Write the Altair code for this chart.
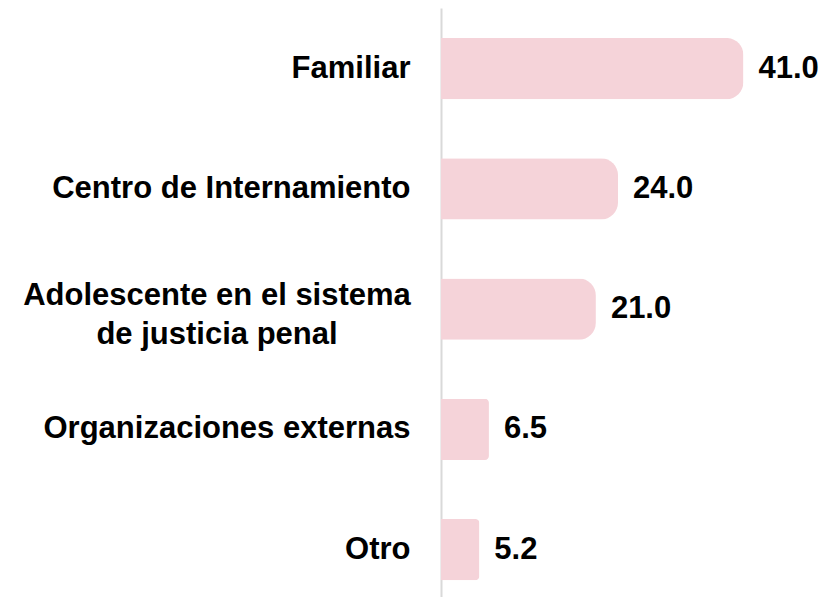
import altair as alt
import pandas as pd

categories = ["Familiar", "Centro de Internamiento", "Adolescente en el sistema de justicia penal",
              "Organizaciones externas", "Otro"]
values = [41.0, 24.0, 21.0, 6.5, 5.2]
two_line_label = ["Adolescente en el sistema", "de justicia penal"]

df = pd.DataFrame({"cat": categories, "value": values})
FONT = "Liberation Sans, Arial, sans-serif"
FS = 31
BAR = "#f5d3d9"

y_scale = alt.Scale(domain=categories, paddingInner=0.49, paddingOuter=0.194, align=0.642)
y_enc = alt.Y("cat:N", sort=categories, scale=y_scale,
              axis=alt.Axis(title=None, ticks=False, domainColor="#d9d9d9", domainWidth=2,
                            labelFont=FONT, labelFontSize=FS, labelFontWeight="bold",
                            labelColor="#000000", labelPadding=31, labelLimit=500,
                            labelExpr="length(datum.label) > 30 ? '' : datum.label"))
x_enc = alt.X("value:Q", scale=alt.Scale(domain=[0, 52.2]), axis=None)

bars_big = alt.Chart(df).transform_filter("datum.value >= 10").mark_bar(
    color=BAR, cornerRadiusEnd=17
).encode(x=x_enc, y=y_enc)

bars_small = alt.Chart(df).transform_filter("datum.value < 10").mark_bar(
    color=BAR, cornerRadiusEnd=4
).encode(x=x_enc, y=y_enc)

vals = alt.Chart(df).mark_text(
    align="left", baseline="middle", dx=15, font=FONT, fontSize=FS, fontWeight="bold", color="#000000"
).encode(x=x_enc, y=alt.Y("cat:N", sort=categories), text=alt.Text("value:Q", format=".1f"))

lab_df = pd.DataFrame({"cat": [categories[2]], "lab": ["\n".join(two_line_label)]})
lab = alt.Chart(lab_df).mark_text(
    align="center", baseline="middle", dx=-224, dy=-13, lineBreak="\n", lineHeight=39,
    font=FONT, fontSize=FS, fontWeight="bold", color="#000000"
).encode(x=alt.value(0), y=alt.Y("cat:N", sort=categories), text="lab:N")

chart = alt.layer(bars_big, bars_small, vals, lab).properties(
    width=385, height=589,
    autosize=alt.AutoSizeParams(type="none"),
    padding={"left": 433, "top": 0, "right": 0, "bottom": 0}
).configure_view(stroke=None)

chart.save("out.html", embed_options={"renderer": "svg", "actions": False})
